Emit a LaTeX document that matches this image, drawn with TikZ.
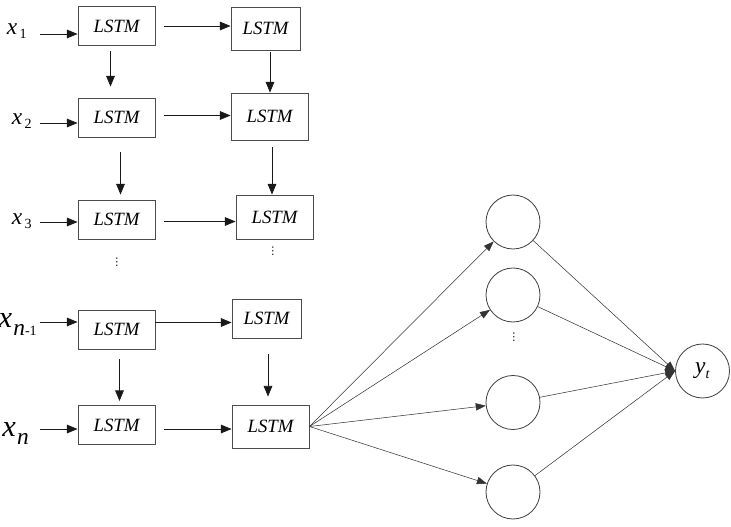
\documentclass[tikz,border=0pt]{standalone}
\usepackage{fontspec}
\setmainfont{Liberation Serif}
\newfontfamily\dotsfont{DejaVu Sans}
\usepackage{tikz}
\usetikzlibrary{positioning, arrows.meta, calc}

\newcommand{\xin}[1]{{\fontsize{20}{20}\selectfont\textit{x}}\kern2pt\raisebox{-4pt}{\fontsize{12}{12}\selectfont #1}}
\newcommand{\xinbig}[1]{{\fontsize{26}{26}\selectfont\textit{x}}\kern1pt\raisebox{-7pt}{#1}}

\tikzset{
  cell/.style={draw=black!70, line width=0.8pt, inner sep=0pt, minimum width=2.31cm, minimum height=1.17cm, font=\fontsize{16}{16}\selectfont\itshape},
  unit/.style={draw=black!75, line width=0.7pt, circle, inner sep=0pt, minimum size=1.62cm},
  arr/.style={-{Triangle[length=3.2mm,width=2.6mm]}, line width=0.65pt, black!90},
  fan/.style={-{Triangle[length=3mm,width=2.2mm]}, line width=0.45pt, black!80},
  vd/.style={inner sep=0pt, font=\fontsize{9}{9}\selectfont\dotsfont}
}

\begin{document}
\begin{tikzpicture}[x=0.03cm, y=-0.03cm]
\useasboundingbox (0,0) rectangle (731,526);
% First LSTM layer
\node[cell] (a1) at (116.5,26) {LSTM};
\node[cell] (a2) at (116.5,117.5) {LSTM};
\node[cell] (a3) at (116.5,219.5) {LSTM};
\node[cell] (a4) at (116.5,329.5) {LSTM};
\node[cell] (a5) at (116.5,425) {LSTM};
% Second LSTM layer
\node[cell, minimum width=2.07cm, minimum height=1.29cm] (b1) at (265.5,28.5) {LSTM};
\node[cell, minimum height=1.41cm] (b2) at (269.5,116.5) {LSTM};
\node[cell, minimum height=1.32cm] (b3) at (274.5,217) {LSTM};
\node[cell, minimum width=2.07cm] (b4) at (266.5,318.5) {LSTM};
\node[cell, minimum height=1.29cm] (b5) at (270.5,426.5) {LSTM};
% Inputs
\node[anchor=base east, inner sep=0pt] (x1) at (27,34) {\xin{1}};
\node[anchor=base east, inner sep=0pt] (x2) at (32,124) {\xin{2}};
\node[anchor=base east, inner sep=0pt] (x3) at (32,224) {\xin{3}};
\node[anchor=base east, inner sep=0pt] (x4) at (37,327) {\xinbig{{\fontsize{20}{20}\selectfont\textit{n}}{\fontsize{12}{12}\selectfont -1}}};
\node[anchor=base east, inner sep=0pt] (x5) at (29,436) {\xinbig{\fontsize{20}{20}\selectfont\textit{n}}};
\draw[arr] ($(x1.base east)+(13,0)$) coordinate (s1) -- (s1 -| a1.west);
\draw[arr] ($(x2.base east)+(8,-1)$) coordinate (s2) -- (s2 -| a2.west);
\draw[arr] ($(x3.base east)+(8,-2)$) coordinate (s3) -- (s3 -| a3.west);
\draw[arr] ($(x4.base east)+(3,-5)$) coordinate (s4) -- (s4 -| a4.west);
\draw[arr] ($(x5.base east)+(11,-7)$) coordinate (s5) -- (s5 -| a5.west);
% Layer to layer
\draw[arr] ($(a1.east)+(9,0)$) coordinate (h1) -- (h1 -| b1.west);
\draw[arr] ($(a2.east)+(9,-2)$) coordinate (h2) -- (h2 -| b2.west);
\draw[arr] ($(a3.east)+(9,2)$) coordinate (h3) -- (h3 -| b3.west);
\draw[arr] ($(a4.east)+(0,-7)$) coordinate (h4) -- (h4 -| b4.west);
\draw[arr] ($(a5.east)+(9,4)$) coordinate (h5) -- (h5 -| b5.west);
% Down the sequence
\draw[arr] ($(a1.south)+(-6,5)$) -- ($(a2.north)+(-6,-11)$);
\draw[arr] ($(a2.south)+(4,15)$) -- ($(a3.north)+(4,-5)$);
\draw[arr] ($(a4.south)+(3,10)$) -- ($(a5.north)+(3,-4)$);
\draw[arr] ($(b1.south)+(4.5,2)$) -- ($(b2.north)+(0.5,0)$);
\draw[arr] ($(b2.south)+(2.5,7)$) -- ($(b3.north)+(-2.5,0)$);
\draw[arr] ($(b4.south)+(1.5,16)$) -- ($(b5.north)+(-2.5,-8)$);
\node[vd] (vd1) at (117,262) {⋮};
\node[vd] (vd2) at (273,251) {⋮};
% Dense layer
\node[unit] (c1) at (513,222) {};
\node[unit] (c2) at (513,295) {};
\node[unit] (c3) at (513,402.5) {};
\node[unit] (c4) at (513,492) {};
\node[vd] (vd3) at (514,337) {⋮};
\node[unit] (y) at (702.5,371) {{\fontsize{20}{20}\selectfont\textit{y}}\raisebox{-4pt}{\fontsize{12}{12}\selectfont\textit{t}}};
\draw[fan] (b5.east) -- (c1);
\draw[fan] (b5.east) -- (c2);
\draw[fan] (b5.east) -- (c3);
\draw[fan] (b5.east) -- (c4);
\draw[fan] (c1) -- (y.west);
\draw[fan] (c2) -- (y.west);
\draw[fan] (c3) -- (y.west);
\draw[fan] (c4) -- (y.west);
\end{tikzpicture}
\end{document}
